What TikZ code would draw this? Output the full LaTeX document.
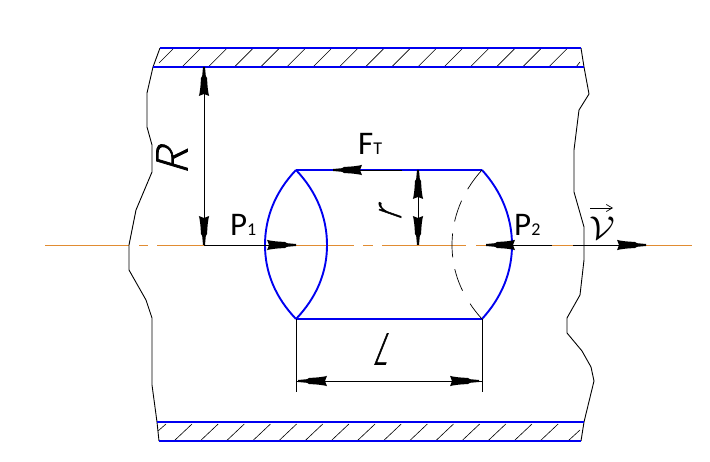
\documentclass[tikz,border=0pt]{standalone}
\usepackage{fontspec}
\setmainfont{Carlito}
\newfontfamily\dimfont[RawFeature={embolden=1.6}]{Lato Light}
\usetikzlibrary{arrows.meta}
\definecolor{wallblue}{RGB}{0,0,240}
\definecolor{axisorange}{RGB}{225,140,50}
\pgfdeclarearrow{
  name=Needle,
  setup code={\pgfarrowssettipend{0pt}\pgfarrowssetbackend{-29pt}\pgfarrowssetlineend{-6pt}\pgfarrowssetvisualbackend{-27pt}},
  drawing code={
    \pgfpathmoveto{\pgfqpoint{0pt}{1pt}}
    \pgfpathlineto{\pgfqpoint{-9pt}{1.8pt}}
    \pgfpathlineto{\pgfqpoint{-11pt}{3pt}}
    \pgfpathlineto{\pgfqpoint{-20pt}{3.6pt}}
    \pgfpathlineto{\pgfqpoint{-27pt}{4.6pt}}
    \pgfpathlineto{\pgfqpoint{-29pt}{5.2pt}}
    \pgfpathlineto{\pgfqpoint{-27pt}{0pt}}
    \pgfpathlineto{\pgfqpoint{-29pt}{-5.2pt}}
    \pgfpathlineto{\pgfqpoint{-27pt}{-4.6pt}}
    \pgfpathlineto{\pgfqpoint{-20pt}{-3.6pt}}
    \pgfpathlineto{\pgfqpoint{-11pt}{-3pt}}
    \pgfpathlineto{\pgfqpoint{-9pt}{-1.8pt}}
    \pgfpathlineto{\pgfqpoint{0pt}{-1pt}}
    \pgfpathclose\pgfusepathqfill
  }
}
\tikzset{
  wall/.style={draw=wallblue,line width=1.9pt},
  thin line/.style={draw=black,line width=0.9pt},
  axis line/.style={draw=axisorange,line width=0.8pt},
  hatch/.style={draw=black,line width=0.6pt},
  hidden/.style={draw=black,line width=0.7pt,dash pattern=on 24pt off 13pt on 22pt off 12pt on 24pt off 12pt on 23pt off 15pt on 24pt},
  dim/.style={draw=black,line width=0.9pt,arrows={Needle-Needle}},
  dimend/.style={draw=black,line width=0.9pt,arrows={-Needle}},
  lab/.style={inner sep=0pt,anchor=base west,text=black},
  cadlab/.style={inner sep=0pt,text=black,font=\dimfont\fontsize{44}{44}\selectfont}
}
\begin{document}
\begin{tikzpicture}[x=1pt,y=-1pt]
\useasboundingbox (0,0) rectangle (710,462);
% axis
\draw[axis line] (45,245) -- (129,245) (139,245) -- (148,245) (157,245) -- (204,245)
  (296,245) -- (354,245) (363,245) -- (373,245) (382,245) -- (466,245) (476,245) -- (486,245)
  (552,245) -- (573,245) (646,245) -- (692,245);
% break lines
\draw[thin line] (160,48) -- (153,67) -- (147,93) -- (147,127) -- (152,145) -- (152,172) -- (136,210) -- (129,245) -- (129,270) -- (146,300) -- (152,318) -- (152,385) -- (157,422) -- (159,441);
\draw[thin line] (581,48) -- (584,67) -- (589,94) -- (579,110) -- (574,150) -- (574,192) -- (584,227) -- (584,260) -- (580,295) -- (567,318) -- (567,333) -- (582,351) -- (591,367) -- (594,381) -- (584,422) -- (581,441);
% hatching
\foreach \k in {0,...,14} \draw[hatch] ({182+26.2*\k},67) -- ++(18,-18);
\draw[hatch] (159,63) -- (173,49);
\draw[hatch] (576,67) -- (580,62);
\foreach \k in {0,...,14} \draw[hatch] ({174+26.15*\k},441) -- ++(18,-17);
\draw[hatch] (158,431) -- (166,424);
\draw[hatch] (568,441) -- (580,430);
% walls
\draw[wall] (160,48) -- (581,48);
\draw[wall] (153,67) -- (584,67);
\draw[wall] (157,422) -- (584,422);
\draw[wall] (159,441) -- (581,441);
% cylinder
\draw[wall] (296,170) -- (482,170);
\draw[wall] (296,319) -- (482,319);
\draw[wall] (296,170) .. controls (275,192) and (265,218) .. (265,245) .. controls (265,272) and (275,297) .. (296,319);
\draw[wall] (296,170) .. controls (317,192) and (327,218) .. (327,245) .. controls (327,272) and (317,297) .. (296,319);
\draw[wall] (482,170) .. controls (502,192) and (512,218) .. (512,245) .. controls (512,272) and (502,297) .. (482,319);
\draw[hidden] (482,170) .. controls (462,192) and (452,218) .. (452,245) .. controls (452,272) and (462,297) .. (482,319);
% extension lines
\draw[thin line] (296,319) -- (296,392);
\draw[thin line] (482,319) -- (482,392);
\coordinate (rtop) at (204,67);
\coordinate (rbot) at (204,245);
\coordinate (itop) at (418,170);
\coordinate (ibot) at (418,245);
\coordinate (lleft) at (298,381);
\coordinate (lright) at (479,381);
% dimensions
\draw[dim] (rtop) -- (rbot);
\draw[dim] (itop) -- (ibot);
\draw[dim] (lleft) -- (lright);
\draw[thin line] (296,381) -- (lleft) (lright) -- (482,381);
\draw[dimend] (rbot) -- (296,245);
\draw[dimend] (402,170) -- (333,170);
\draw[dimend] (552,245) -- (486,245);
\draw[dimend] (573,245) -- (646,245);
% labels
\node[lab,font=\fontsize{33}{33}\selectfont] at (358,155) {F\fontsize{18}{18}\selectfont T};
\node[lab,font=\fontsize{33}{33}\selectfont] at (230,236) {P\fontsize{18}{18}\selectfont 1};
\node[lab,font=\fontsize{33}{33}\selectfont] at (514,236) {P\fontsize{18}{18}\selectfont 2};
\node[cadlab,rotate=90,xslant=.3] at (172,157) {R};
\node[cadlab,rotate=90,xslant=.35,xscale=.7] at (390,211) {r};
\node[cadlab,xslant=.4,xscale=.65] at (385,349) {L};
\node[inner sep=0pt,xscale=3.7,yscale=3.3,text=black] at (602,228) {$\mathcal{V}$};
\coordinate (varrowa) at (590,208);
\coordinate (varrowb) at (613,208);
\draw[draw=black,line width=0.7pt,-{Straight Barb[length=6pt,width=7pt]}] (varrowa) -- (varrowb);
\end{tikzpicture}
\end{document}
